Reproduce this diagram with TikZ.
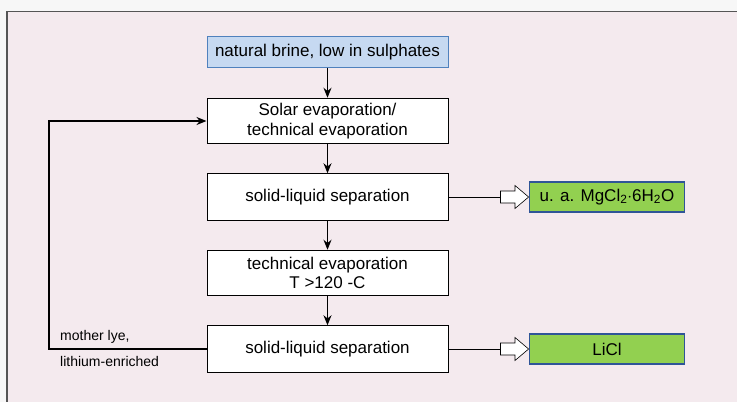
\documentclass[tikz,border=0pt]{standalone}
\usepackage{fontspec}
\setmainfont{Liberation Sans}
\usetikzlibrary{arrows.meta}
\definecolor{outerbg}{HTML}{F7F7F7}
\definecolor{innerbg}{HTML}{F4EAEE}
\definecolor{framecol}{HTML}{555555}
\definecolor{bluefill}{HTML}{C6D9F1}
\definecolor{blueline}{HTML}{4F81BD}
\definecolor{greenfill}{HTML}{92D050}
\definecolor{greenline}{HTML}{2F5597}
\tikzset{
  procbox/.style={draw=black, fill=white, line width=1pt, minimum width=241pt, inner sep=0pt, align=center, font=\fontsize{17}{19.5}\selectfont},
  srcbox/.style={draw=blueline, fill=bluefill, line width=1pt, minimum width=241pt, minimum height=30.5pt, inner sep=0pt, font=\fontsize{17}{19.5}\selectfont},
  outbox/.style={draw=greenline, fill=greenfill, line width=1.3pt, minimum width=155.5pt, minimum height=30pt, inner sep=0pt, font=\fontsize{17}{19.5}\selectfont},
  flow/.style={-{Stealth[length=10pt,width=8pt]}, line width=1.3pt},
  feed/.style={-{Stealth[length=10pt,width=8pt]}, line width=1.8pt},
  smalllbl/.style={anchor=west, inner sep=0pt, font=\fontsize{14}{16}\selectfont},
  hollow/.style={draw=black, fill=white, line width=0.6pt}
}
\begin{document}
\begin{tikzpicture}[x=1pt,y=-1pt]
\useasboundingbox (0,0) rectangle (737,402);
\fill[outerbg] (0,0) rectangle (737,402);
\fill[innerbg] (7,11.5) rectangle (737,402);
\draw[framecol, line width=1.2pt] (7,402) -- (7,11.5) -- (737,11.5);

\node[srcbox] (src) at (327.5,52) {natural brine, low in sulphates};
\node[procbox, minimum height=45.5pt] (evap) at (327.5,121) {Solar evaporation/\\technical evaporation};
\node[procbox, minimum height=46.5pt] (sep1) at (327.5,197) {solid-liquid separation};
\node[procbox, minimum height=45.5pt] (tevap) at (327.5,273) {technical evaporation\\T >120 -C};
\node[procbox, minimum height=46.5pt] (sep2) at (327.5,349) {solid-liquid separation};
\node[outbox] (mg) at (607,197) {u. a. MgCl\textsubscript{2}$\cdot$6H\textsubscript{2}O};
\node[outbox] (licl) at (607,349) {LiCl};

\draw[flow] (src) -- (evap);
\draw[flow] (evap) -- (sep1);
\draw[flow] (sep1) -- (tevap);
\draw[flow] (tevap) -- (sep2);

\coordinate (fb1) at (49,349);
\coordinate (fb2) at (49,121);
\draw[feed] (sep2.west) -- (fb1) -- (fb2) -- (evap.west);
\node[smalllbl] (lbl1) at (60,337) {mother lye,};
\node[smalllbl] (lbl2) at (60,361) {lithium-enriched};

% hollow arrows
\foreach \src/\dst/\yy in {sep1/mg/197, sep2/licl/349}{
  \coordinate (h0) at (500.5,\yy);
  \draw[line width=0.8pt] (\src.east) -- (h0);
  \draw[hollow] (500.5,\yy-6) -- (515,\yy-6) -- (515,\yy-11.5) -- (\dst.west) -- (515,\yy+11.5) -- (515,\yy+6) -- (500.5,\yy+6) -- cycle;
}
\end{tikzpicture}
\end{document}
